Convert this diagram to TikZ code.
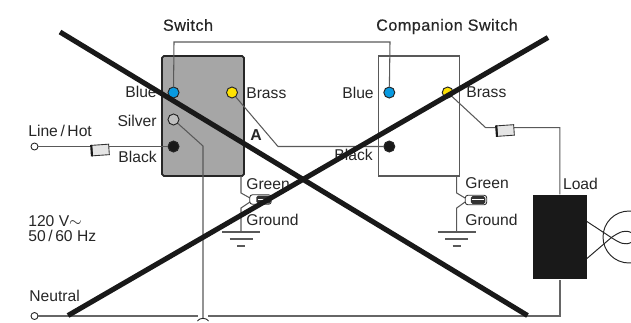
\documentclass[tikz,border=0pt]{standalone}
\usepackage{fontspec}
\setmainfont{Liberation Sans}
\tikzset{
  wire/.style={draw=black!65,line width=.6pt},
  mainwire/.style={draw=black!60,line width=.85pt},
  label/.style={text=black!85,font=\fontsize{8.9}{10}\selectfont,inner sep=0pt},
  title/.style={label,font=\fontsize{9.2}{10}\selectfont\addfontfeatures{LetterSpace=3,FakeBold=0.4}},
  terminal/.style={circle,draw=black!85,line width=.55pt,minimum size=.22cm,inner sep=0pt},
  lug/.style={draw=black!80,fill=black!10,line width=.5pt,minimum width=.34cm,minimum height=.21cm,inner sep=0pt,rotate=4},
  nut/.style={draw=black!80,fill=white,line width=.5pt,rounded corners=1.5pt,minimum width=.43cm,minimum height=.19cm,inner sep=0pt},
  nutcore/.style={fill=black!80,rounded corners=1pt,minimum width=.29cm,minimum height=.16cm,inner sep=0pt},
  cross/.style={draw=black!90,line width=2.9pt}
}
\begin{document}
\begin{tikzpicture}[x=0.02cm,y=-0.02cm]
    \useasboundingbox (0,0) rectangle (631,322);
    \newcommand\groundbars[1]{
      \draw[wire] (#1-19,232) -- (#1+19,232);
      \draw[wire] (#1-11.5,239) -- (#1+11.5,239);
      \draw[wire] (#1-4,246) -- (#1+4,246);
    }
    % the two switch boxes
    \node[draw=black!85,fill=black!35,line width=1pt,rounded corners=1pt,minimum width=1.64cm,minimum height=2.4cm,inner sep=0pt] at (203,116) (switch) {};
    \node[draw=black!65,fill=white,line width=.6pt,minimum width=1.63cm,minimum height=2.4cm,inner sep=0pt] at (418.8,116) (companion) {};
    % load and lamp
    \node[fill=black!90,minimum width=1.07cm,minimum height=1.69cm,inner sep=0pt] at (559.8,237) (load) {};
    \begin{scope}
      \clip (0,0) rectangle (631,322);
      \node[circle,draw=black!85,line width=.55pt,minimum size=1.04cm,inner sep=0pt] at (629,237) (lamp) {};
      \draw[black!85,line width=.55pt] (load.east |- 0,221.5) -- (612,238) .. controls (620,243) and (625,246) .. (632,242);
      \draw[black!85,line width=.55pt] (load.east |- 0,258.5) -- (612,237) .. controls (620,232) and (625,229) .. (632,233);
    \end{scope}
    % terminals
    \node[terminal,fill=cyan!85!blue] at (173.5,92.5) (sblue) {};
    \node[terminal,fill=yellow!85!orange] at (232,92.5) (sbrass) {};
    \node[terminal,fill=black!25] at (173.5,119.5) (ssilver) {};
    \node[terminal,fill=black!90] at (173.5,146.5) (sblack) {};
    \node[terminal,fill=cyan!85!blue] at (389.3,92.5) (cblue) {};
    \node[terminal,fill=yellow!85!orange] at (447.7,92.5) (cbrass) {};
    \node[terminal,fill=black!90] at (389.3,146.5) (cblack) {};
    \node[circle,draw=black!85,fill=white,line width=.5pt,minimum size=.14cm,inner sep=0pt] at (34.5,146.5) (hot) {};
    \node[circle,draw=black!85,fill=white,line width=.5pt,minimum size=.14cm,inner sep=0pt] at (34.5,316) (neutral) {};
    % wires
    \draw[wire] (sblue) -- (174,42) -- (390,42) -- (cblue);
    \draw[wire] (sbrass) -- (278,146.5) -- (cblack);
    \draw[wire] (ssilver) -- (203,146) -- (203,318);
    \draw[wire] (hot) -- (sblack);
    \draw[mainwire] (neutral) -- (198,316);
    \draw[mainwire] (208,316) -- (559.8,316) -- (load.south);
    \draw[black!85,line width=.5pt] (197.5,321) .. controls (199,317.5) and (207,317.5) .. (208.5,321);
    \draw[wire] (cbrass) -- (485.7,127.7) -- (559.8,127.7) -- (load.north);
    \draw[wire] (241,176) -- (241,193) -- (250,198);
    \draw[wire] (250,202) -- (241,208) -- (241,232);
    \draw[wire] (456.7,176) -- (456.7,193) -- (465,198);
    \draw[wire] (465,202) -- (456.7,208) -- (456.7,232);
    \groundbars{241}
    \groundbars{456.7}
    % lugs and wire nuts
    \node[lug] at (100.5,150) (hotlug) {};
    \node[lug] at (505.5,130.5) (loadlug) {};
    \draw[black!90,line width=1.2pt] (hotlug.north west) -- (hotlug.south west);
    \draw[black!90,line width=1.2pt] (loadlug.north west) -- (loadlug.south west);
    \node[nut] at (260.5,199.5) (snut) {};
    \node[nutcore] at (263.5,199.5) {};
    \draw[white,line width=.4pt] (258,199) -- (268,199);
    \node[nut] at (476,200) (cnut) {};
    \node[nutcore] at (478,200) {};
    \draw[white,line width=.4pt] (472,199.5) -- (484,199.5);
    % labels
    \node[title] at (188,25) (switchlabel) {Switch};
    \node[title] at (447,26.5) (companionlabel) {Companion Switch};
    \node[label,anchor=east] at (157,91.5) {Blue};
    \node[label,anchor=west] at (246,93.5) {Brass};
    \node[label,anchor=east] at (157,120.5) {Silver};
    \node[label,anchor=east] at (157,156.5) {Black};
    \node[label,font=\fontsize{9}{10}\selectfont\bfseries] at (256,135) {A};
    \node[label,anchor=west] at (28,130.5) {Line\,/\,Hot};
    \node[label,anchor=west] at (29,295.5) {Neutral};
    \node[label,anchor=west] at (28,221.5) {120 V$\sim$};
    \node[label,anchor=west] at (28,235.5) {50\,/\,60 Hz};
    \node[label,anchor=west] at (246,184) {Green};
    \node[label,anchor=west] at (246,220) {Ground};
    \node[label,anchor=east] at (374,92.5) {Blue};
    \node[label,anchor=west] at (466,92.5) {Brass};
    \node[label,anchor=east] at (373,155) {Black};
    \node[label,anchor=west] at (465,183.5) {Green};
    \node[label,anchor=west] at (465,220) {Ground};
    \node[label,anchor=west] at (562.7,183.5) {Load};
    % crossed out
    \coordinate (crossa) at (60,32);
    \coordinate (crossb) at (527.5,315.5);
    \coordinate (crossc) at (68,315.5);
    \coordinate (crossd) at (548,37.5);
    \draw[cross] (crossa) -- (crossb);
    \draw[cross] (crossc) -- (crossd);
  \end{tikzpicture}
\end{document}
